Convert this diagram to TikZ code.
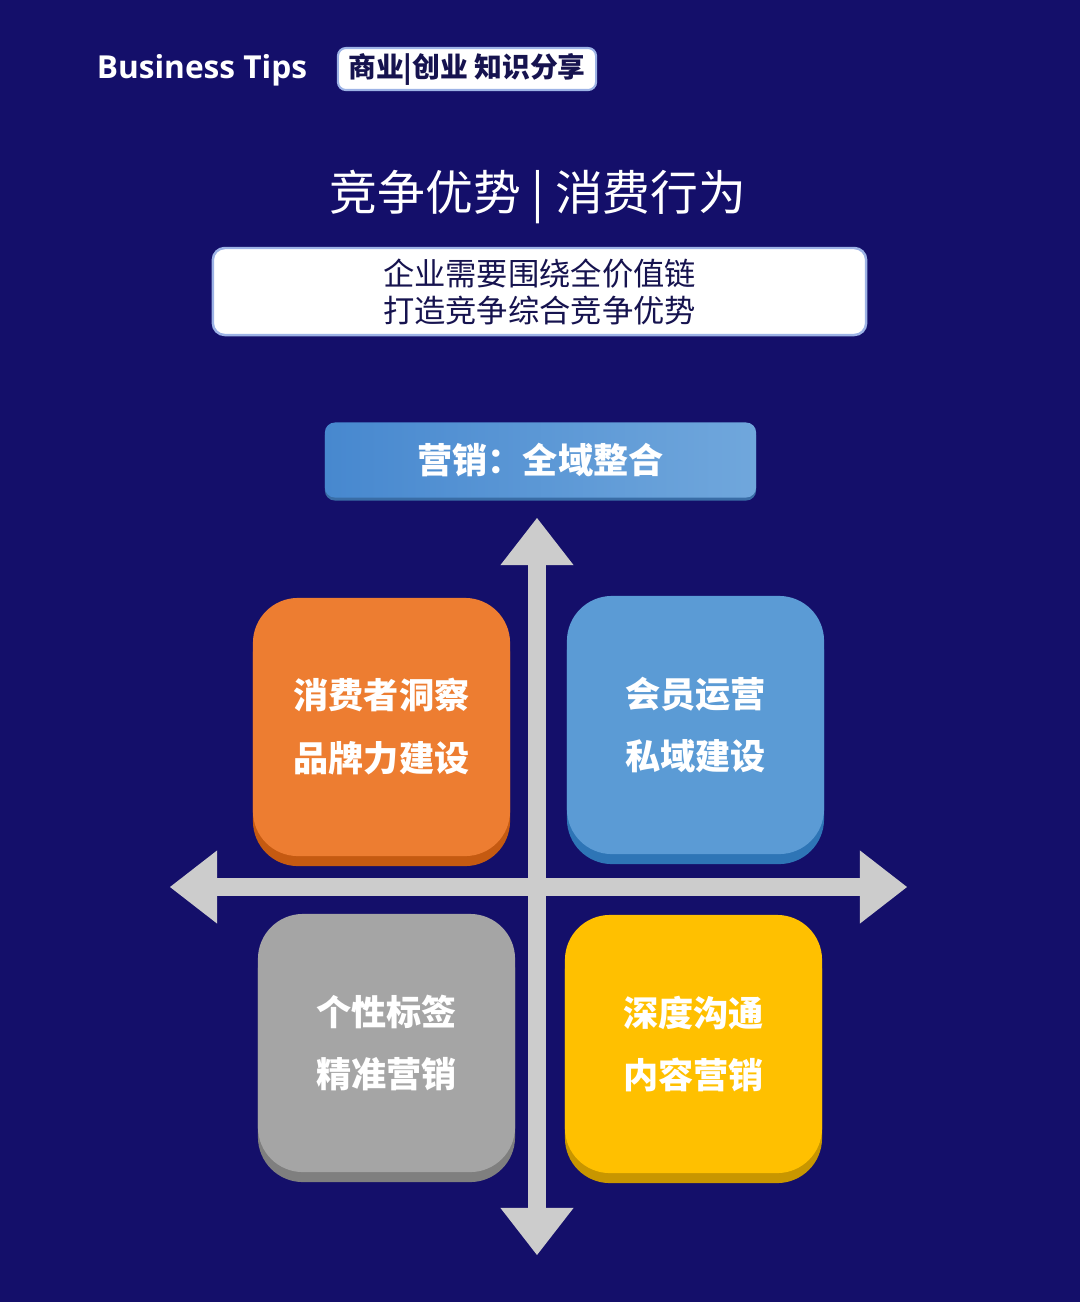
\documentclass[tikz,border=0pt]{standalone}
\usepackage{fontspec}
\newfontfamily\cjk{Noto Sans CJK SC}
\newfontfamily\brandfont{Open Sans}
\usetikzlibrary{arrows.meta, shadows}
\definecolor{bgnavy}{HTML}{140F6A}
\definecolor{inknavy}{HTML}{16134F}
\definecolor{rimblue}{HTML}{9DB3E6}
\definecolor{axisgrey}{HTML}{CCCCCC}
\definecolor{headleft}{HTML}{4788CF}
\definecolor{headright}{HTML}{70A7DC}
\definecolor{qorange}{HTML}{ED7D31}
\definecolor{qorangedk}{HTML}{C55A11}
\definecolor{qblue}{HTML}{5B9BD5}
\definecolor{qbluedk}{HTML}{2E75B6}
\definecolor{qgrey}{HTML}{A5A5A5}
\definecolor{qgreydk}{HTML}{7F7F7F}
\definecolor{qyellow}{HTML}{FFC000}
\definecolor{qyellowdk}{HTML}{C89600}

\begin{document}
\begin{tikzpicture}[
      x=0.01cm, y=-0.01cm,
      tagbox/.style={rounded corners=0.08cm, fill=white, draw=rimblue, line width=0.6pt,
                     minimum width=2.58cm, minimum height=0.42cm, inner sep=0pt,
                     text=inknavy, font=\cjk\bfseries\fontsize{7.9}{9}\selectfont},
      leadbox/.style={rounded corners=0.12cm, fill=white, draw=rimblue, line width=0.7pt,
                      minimum width=6.53cm, minimum height=0.87cm, inner sep=0pt, align=center,
                      text=inknavy, font=\cjk\fontsize{8.9}{10.5}\selectfont},
      headbox/.style={rounded corners=0.1cm, left color=headleft, right color=headright,
                      general shadow={fill=headleft!80!black, shadow yshift=-0.03cm},
                      minimum width=4.31cm, minimum height=0.75cm, inner sep=0pt,
                      text=white, font=\cjk\bfseries\fontsize{10}{12}\selectfont},
      quad/.style={rounded corners=0.45cm, minimum width=2.57cm, minimum height=2.58cm,
                   inner sep=0pt, align=center, text=white,
                   font=\cjk\bfseries\fontsize{10}{17.9}\selectfont},
      axis/.style={draw=axisgrey, line width=0.185cm,
                   {Triangle[length=0.47cm, width=0.73cm, line width=0pt]}-{Triangle[length=0.47cm, width=0.73cm, line width=0pt]}},
    ]

    % ---------------- background
    \fill[bgnavy] (0,0) rectangle (1080,1302);
    \useasboundingbox (0,0) rectangle (1080,1302);

    % ---------------- header line
    \node[white, font=\brandfont\bfseries\fontsize{9.0}{12}\selectfont] (brand) at (202,70) {Business Tips};
    \node[tagbox] (tag) at (467,69) {商业|创业 知识分享};

    % ---------------- title and lead box
    \node[white, font=\cjk\fontsize{13.6}{15}\selectfont] (title) at (538,197) {竞争优势 | 消费行为};
    \node[leadbox] (lead) at (539.5,291.5) {企业需要围绕全价值链\\打造竞争综合竞争优势};

    % ---------------- blue heading
    \node[headbox] (head) at (540.5,460) {营销：全域整合};

    % ---------------- cross of axes
    \coordinate (top) at (537,518);
    \coordinate (bottom) at (537,1255);
    \coordinate (left) at (170,887);
    \coordinate (right) at (907,887);
    \draw[axis] (left) -- (right);
    \draw[axis] (bottom) -- (top);

    % ---------------- four quadrants
    \node[quad, fill=qorange, general shadow={fill=qorangedk, shadow yshift=-0.1cm}]
      (insight) at (381.5,727) {消费者洞察\\品牌力建设};
    \node[quad, fill=qblue, general shadow={fill=qbluedk, shadow yshift=-0.1cm}]
      (member) at (695.5,725) {会员运营\\私域建设};
    \node[quad, fill=qgrey, general shadow={fill=qgreydk, shadow yshift=-0.1cm}]
      (label) at (386.5,1043) {个性标签\\精准营销};
    \node[quad, fill=qyellow, general shadow={fill=qyellowdk, shadow yshift=-0.1cm}]
      (content) at (693.5,1044) {深度沟通\\内容营销};
  \end{tikzpicture}
\end{document}
